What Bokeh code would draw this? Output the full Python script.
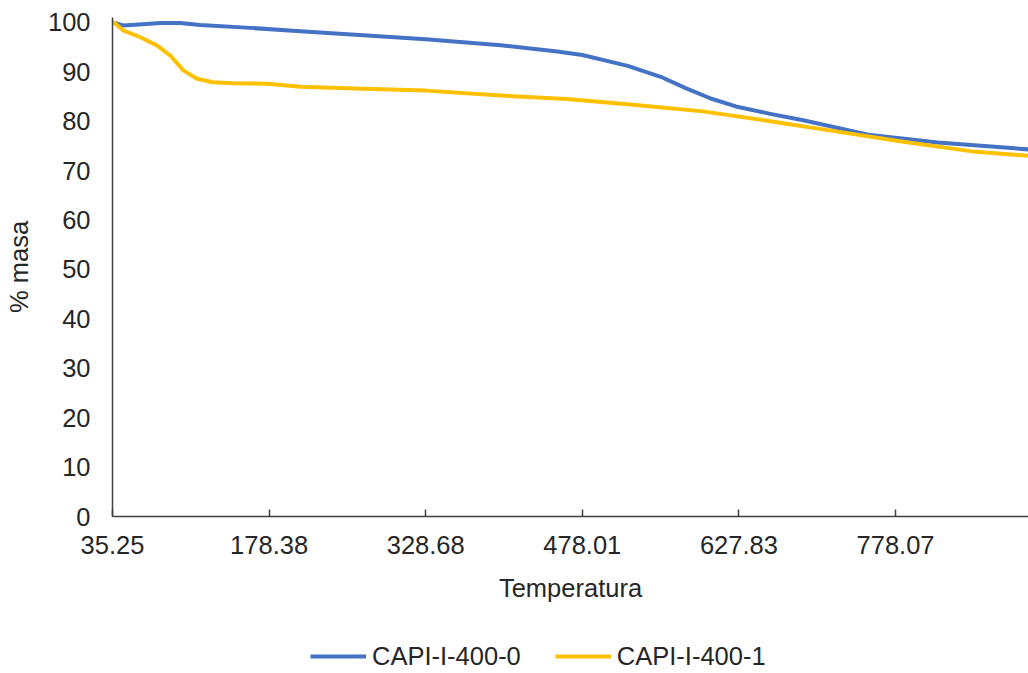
from bokeh.plotting import figure
from bokeh.models import Range1d, FixedTicker, Legend, LegendItem
from bokeh.layouts import column
from bokeh.embed import file_html
from bokeh.resources import INLINE

# Category axis labels (temperature) at evenly spaced category positions
tick_labels = ["35.25", "178.38", "328.68", "478.01", "627.83", "778.07"]
tick_pos = [0, 1, 2, 3, 4, 5]

# Series: position along the category axis (in label-interval units) and % mass
blue_x = [0.0, 0.068, 0.17, 0.305, 0.432, 0.56, 0.88, 1.2, 1.6, 2.0, 2.48, 2.84, 3.0,
          3.29, 3.5, 3.66, 3.82, 3.98, 4.2, 4.41, 4.84, 5.27, 5.849]
blue_y = [100.0, 99.4, 99.6, 99.9, 99.9, 99.5, 98.9, 98.2, 97.4, 96.6, 95.4, 94.1, 93.4,
          91.2, 89.0, 86.7, 84.6, 83.0, 81.5, 80.2, 77.2, 75.7, 74.3]

yellow_x = [0.0, 0.017, 0.068, 0.178, 0.286, 0.369, 0.452, 0.54, 0.64, 0.77, 0.99, 1.2,
            1.6, 2.0, 2.48, 2.9, 3.34, 3.77, 4.2, 4.63, 5.06, 5.49, 5.849]
yellow_y = [100.0, 99.8, 98.4, 97.0, 95.3, 93.3, 90.3, 88.6, 87.9, 87.7, 87.6, 87.0,
            86.6, 86.2, 85.2, 84.5, 83.3, 82.0, 80.0, 77.9, 75.8, 73.9, 73.0]

series_names = ["CAPI-I-400-0", "CAPI-I-400-1"]
series_colors = ["#4472C4", "#FFC000"]
y_ticks = [0, 10, 20, 30, 40, 50, 60, 70, 80, 90, 100]

FONT = "Liberation Sans"
TXT = "#262626"
AX = "#404040"
FS = "25.5px"

p = figure(width=1028, height=625, output_backend="svg", toolbar_location=None,
           x_range=Range1d(0, 5.849), y_range=Range1d(0, 101),
           min_border_left=112, min_border_right=0, min_border_top=17, min_border_bottom=109)
p.outline_line_color = None
p.xgrid.visible = False
p.ygrid.visible = False

r0 = p.line(blue_x, blue_y, line_color=series_colors[0], line_width=4, line_join="round")
r1 = p.line(yellow_x, yellow_y, line_color=series_colors[1], line_width=4, line_join="round")

xa = p.xaxis[0]
xa.ticker = FixedTicker(ticks=tick_pos)
xa.major_label_overrides = {i: s for i, s in zip(tick_pos, tick_labels)}
xa.minor_tick_line_color = None
xa.major_tick_in = 7
xa.major_tick_out = 0
xa.axis_line_color = AX
xa.axis_line_width = 1.5
xa.major_tick_line_color = AX
xa.major_tick_line_width = 1.5
xa.major_label_text_font = FONT
xa.major_label_text_font_size = FS
xa.major_label_text_color = TXT
xa.major_label_standoff = 19
xa.axis_label = "Temperatura"
xa.axis_label_text_font = FONT
xa.axis_label_text_font_size = FS
xa.axis_label_text_font_style = "normal"
xa.axis_label_text_color = TXT
xa.axis_label_standoff = 17

ya = p.yaxis[0]
ya.ticker = FixedTicker(ticks=y_ticks)
ya.minor_tick_line_color = None
ya.major_tick_in = 0
ya.major_tick_out = 0
ya.axis_line_color = AX
ya.axis_line_width = 1.5
ya.major_label_text_font = FONT
ya.major_label_text_font_size = FS
ya.major_label_text_color = TXT
ya.major_label_standoff = 22
ya.axis_label = "% masa"
ya.axis_label_text_font = FONT
ya.axis_label_text_font_size = FS
ya.axis_label_text_font_style = "normal"
ya.axis_label_text_color = TXT
ya.axis_label_standoff = 12

# legend strip below the chart (its frame is aligned with the chart frame)
p2 = figure(width=1028, height=48, output_backend="svg", toolbar_location=None,
            x_axis_type=None, y_axis_type=None, x_range=Range1d(10, 11), y_range=Range1d(10, 11),
            min_border=0)
p2.outline_line_color = None
p2.xgrid.visible = False
p2.ygrid.visible = False
l0 = p2.line(blue_x[:1], blue_y[:1], line_color=series_colors[0], line_width=4)
l1 = p2.line(yellow_x[:1], yellow_y[:1], line_color=series_colors[1], line_width=4)
legend = Legend(items=[LegendItem(label=series_names[0], renderers=[l0]),
                       LegendItem(label=series_names[1], renderers=[l1])],
                orientation="horizontal", location=(198, 2),
                label_text_font=FONT, label_text_font_size=FS, label_text_color=TXT,
                glyph_width=56, glyph_height=30, label_height=30, label_standoff=6,
                spacing=34, padding=0, margin=0,
                border_line_color=None, background_fill_alpha=0)
p2.add_layout(legend, "center")

layout = column(p, p2, spacing=0)
open("out.html", "w").write(file_html(layout, INLINE))
